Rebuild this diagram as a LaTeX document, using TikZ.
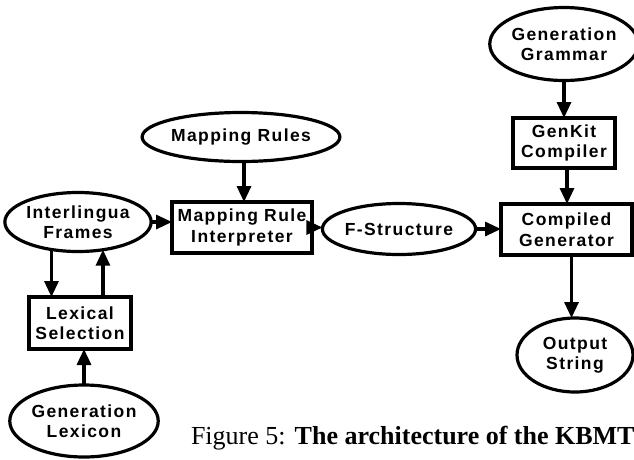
\documentclass[tikz,border=0pt]{standalone}
\usepackage{fontspec}
\setmainfont{Liberation Serif}
\newfontfamily\labelfont[LetterSpace=8]{Liberation Sans}
\usetikzlibrary{shapes.geometric,arrows.meta}

\tikzset{
  every node/.style={inner sep=0pt, outer sep=0pt},
  lbl/.style={font=\labelfont\bfseries\fontsize{17.5}{20.5}\selectfont, align=center},
  oval/.style={lbl, draw, ellipse, line width=3.2pt},
  stepbox/.style={lbl, draw, rectangle, line width=3.2pt},
  arr/.style={line width=3.2pt, -{Triangle[width=14pt,length=16pt]}},
}

\begin{document}
\begin{tikzpicture}[x=1pt,y=-1pt]
\useasboundingbox (0,0) rectangle (634,459);
\clip (0,0) rectangle (634,459);

% generation side
\node[oval, minimum width=120pt, minimum height=73pt] (GG) at (564,44) {Generation\\Grammar};
\node[stepbox, minimum width=102pt, minimum height=50pt] (GK) at (564,143) {GenKit\\Compiler};
\node[stepbox, minimum width=131pt, minimum height=51pt] (CG) at (566.5,229.5) {Compiled\\Generator};
\node[oval, minimum width=116pt, minimum height=74pt] (OS) at (575,355) {Output\\String};

% mapping stage
\node[oval, minimum width=126pt, minimum height=51pt] (FS) at (399,229) {F-Structure};
\node[stepbox, minimum width=140pt, minimum height=51pt] (MRI) at (242,227.5) {Mapping Rule\\Interpreter};
\node[oval, minimum width=148pt, minimum height=49pt] (MR) at (241,137) {Mapping Rules};

% lexical stage
\node[oval, minimum width=137pt, minimum height=59pt] (IF) at (78,222) {Interlingua\\Frames};
\node[stepbox, minimum width=102pt, minimum height=52pt] (LS) at (80,323) {Lexical\\Selection};
\node[oval, minimum width=138pt, minimum height=72pt] (GL) at (84,421) {Generation\\Lexicon};

% connectors
\draw[arr] (GG.south) -- (GK.north);
\draw[arr] ([xshift=3pt]GK.south) -- ([xshift=3pt]GK.south |- CG.north);
\draw[arr] ([xshift=5pt]CG.south) -- ([xshift=5pt]CG.south |- OS.north);
\draw[arr] (FS.east) -- (FS.east -| CG.west);
\draw[arr] (MRI.east) -- (MRI.east -| FS.west);
\draw[arr] ([xshift=3pt]MR.south) -- ([xshift=3pt]MR.south |- MRI.north);
\draw[arr] (IF.east) -- (IF.east -| MRI.west);
\draw[arr] (IF.226) -- (IF.226 |- LS.north);
\draw[arr] (IF.312 |- LS.north) -- (IF.312);
\draw[arr] (GL.north) -- (GL.north |- LS.south);

% caption
\node[anchor=base west, font=\fontsize{26}{30}\selectfont] (cap) at (191,444)
  {Figure 5:\hspace{0.35em}\textbf{The architecture of the KBMT}};
\end{tikzpicture}
\end{document}
